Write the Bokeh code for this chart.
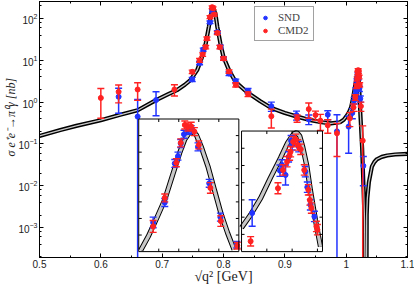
import numpy as np
from bokeh.plotting import figure
from bokeh.models import (Range1d, LogScale, LogAxis, LinearAxis, Label, Legend, LegendItem,
                          SingleIntervalTicker, LogTicker, CustomJSTickFormatter, Grid)
from bokeh.embed import file_html
from bokeh.resources import INLINE

# ---------------- data ----------------
# main panel: SND
snd_x = [0.629, 0.660, 0.690, 0.749, 0.761, 0.767, 0.778, 0.782, 0.790, 0.795,
         0.800, 0.809, 0.820, 0.840, 0.878, 0.919, 0.939, 0.970, 0.985, 1.004,
         1.010, 1.013, 1.016, 1.0175, 1.019, 1.020, 1.0215, 1.023, 1.028]
snd_y = [1.34, 0.45, 1.12, 3.5, 8.6, 18, 81, 150, 47, 21,
         11, 4.8, 3.2, 1.86, 0.8, 0.49, 0.39, 0.5, 0.2, 0.26,
         0.55, 1.1, 1.9, 3.2, 4.5, 3.8, 2.1, 1.2, 0.03]
snd_e = [0.8, 0.7, 0.65, 0.4, 0.8, 1.5, 6, 12, 4, 2,
         1, 0.5, 0.35, 0.25, 0.2, 0.12, 0.1, 0.12, 0.3, 0.2,
         0.15, 0.2, 0.3, 0.4, 0.5, 0.4, 0.3, 0.2, 0.02]
# main panel: CMD2
cmd_x = [0.600, 0.629, 0.660, 0.720, 0.749, 0.761, 0.766, 0.771, 0.773, 0.778,
         0.7815, 0.783, 0.785, 0.790, 0.794, 0.800, 0.809, 0.820, 0.840, 0.878,
         0.920, 0.939, 0.950, 0.958, 0.970, 0.985, 1.006, 1.012, 1.015, 1.017,
         1.018, 1.019, 1.0195, 1.020, 1.021, 1.022, 1.024, 1.027]
cmd_y = [1.26, 1.76, 2.0, 2.0, 5.3, 10, 13.7, 20.7, 33, 108,
         186, 175, 124, 45, 20.7, 11, 5.4, 2.6, 1.55, 0.46,
         0.41, 0.68, 0.49, 0.36, 0.28, 0.18, 0.41, 0.75, 1.3, 2.4,
         3.6, 5.0, 5.8, 5.3, 4.0, 2.6, 0.8, 0.12]
cmd_e = [0.85, 0.8, 0.9, 0.6, 0.5, 1.0, 1.3, 2, 3, 9,
         14, 14, 10, 4, 2, 1, 0.5, 0.3, 0.2, 0.22,
         0.08, 0.27, 0.12, 0.15, 0.1, 0.13, 0.15, 0.15, 0.2, 0.3,
         0.4, 0.5, 0.5, 0.5, 0.4, 0.3, 0.2, 0.15]
# main panel: theory curve
th_x = [0.50, 0.534, 0.56, 0.60, 0.63, 0.66, 0.69, 0.71, 0.724, 0.737,
        0.746, 0.757, 0.765, 0.771, 0.776, 0.780, 0.782, 0.784, 0.787, 0.790,
        0.795, 0.800, 0.809, 0.820, 0.839, 0.860, 0.878, 0.900, 0.920, 0.942,
        0.960, 0.975, 0.990, 0.996, 1.000, 1.004, 1.008, 1.0115, 1.0153, 1.018,
        1.0195, 1.0205, 1.0215, 1.0225, 1.024, 1.026, 1.028, 1.030, 1.0325, 1.0335,
        1.0345, 1.037, 1.042, 1.046, 1.050, 1.058, 1.067, 1.080, 1.100]
th_y = [0.155, 0.215, 0.27, 0.37, 0.49, 0.64, 1.12, 1.55, 1.93, 2.6,
        3.34, 5.8, 12, 25, 62, 130, 190, 170, 125, 62,
        25, 12, 5.8, 3.0, 1.7, 1.05, 0.72, 0.55, 0.45, 0.37,
        0.33, 0.31, 0.33, 0.38, 0.45, 0.55, 0.75, 1.3, 2.8, 4.8,
        6.4, 4.0, 1.8, 0.8, 0.3, 0.08, 0.012, 0.0015, 1e-7, 0.002,
        0.005, 0.012, 0.029, 0.037, 0.043, 0.049, 0.053, 0.056, 0.058]

# inset 1 (omega region, linear scales)
in1_th_x = [0.7705, 0.7724, 0.7745, 0.7765, 0.7786, 0.7802, 0.7815, 0.7827, 0.7833, 0.7844,
            0.7856, 0.7873, 0.7889, 0.7905, 0.7922, 0.7938]
in1_th_y = [2, 23, 50.7, 78.2, 118.3, 148.4, 169.5, 180, 181, 176,
            158.3, 128.3, 93.2, 58.2, 28.1, 3]
in1_snd_x = [0.7736, 0.7765, 0.7790, 0.7798, 0.7805, 0.7813, 0.7823, 0.7831, 0.7848, 0.7876, 0.7904, 0.7945]
in1_snd_y = [44, 74, 133, 144, 163, 177, 183, 184, 158, 103, 52, 10.5]
in1_snd_e = [8, 6, 6, 6, 6, 6, 6, 6, 6, 6, 6, 5]
in1_cmd_x = [0.7736, 0.7765, 0.7794, 0.7805, 0.7815, 0.7823, 0.7831, 0.7839, 0.7850, 0.7879, 0.7905, 0.7946]
in1_cmd_y = [38, 81, 134, 164, 191, 188, 189, 181, 161, 96, 46, 9]
in1_cmd_e = [9, 6, 6, 6, 6, 6, 6, 6, 6, 8, 8, 5]

# inset 2 (phi region, linear scales)
in2_th_x = [1.0100, 1.0118, 1.0138, 1.0157, 1.0177, 1.0191, 1.0203, 1.0209, 1.0215, 1.0221,
            1.0229, 1.0236, 1.0246, 1.0256]
in2_th_y = [1.39, 2.14, 3.12, 4.28, 5.44, 6.31, 6.83, 6.91, 6.71, 6.07,
            4.98, 3.59, 1.85, 0.29]
in2_snd_x = [1.0121, 1.0176, 1.0180, 1.0187, 1.0193, 1.0200, 1.0198, 1.0213, 1.0226, 1.0230, 1.0236, 1.0244]
in2_snd_y = [2.24, 4.7, 5.03, 4.45, 5.5, 6.2, 6.44, 6.09, 4.64, 3.74, 2.72, 2.04]
in2_snd_e = [0.77, 0.33, 0.3, 0.58, 0.3, 0.3, 0.3, 0.3, 0.3, 0.3, 0.3, 0.3]
in2_cmd_x = [1.0118, 1.0172, 1.0182, 1.0190, 1.0195, 1.0197, 1.0202, 1.0207, 1.0211, 1.0217,
             1.0224, 1.0232, 1.0235, 1.0238, 1.0248, 1.0250]
in2_cmd_y = [0.6, 3.68, 4.74, 5.22, 5.6, 5.8, 6.38, 6.52, 6.19, 5.94,
             4.74, 3.59, 3.0, 2.53, 1.46, 1.27]
in2_cmd_e = [0.27, 0.32, 0.3, 0.3, 0.3, 0.3, 0.3, 0.3, 0.3, 0.3,
             0.3, 0.3, 0.3, 0.3, 0.3, 0.3]

x_label = "√q² [GeV]"
y_label = "σ e⁺e⁻→π⁰γ [nb]"
legend_labels = ["SND", "CMD2"]

# ---------------- styling ----------------
BLUE = "#2233ff"
RED = "#ff2222"
BAND = "#c8c8c8"
FLOOR = 1e-7

p = figure(width=414, height=286, output_backend="svg", toolbar_location=None,
           x_range=Range1d(0.5, 1.1), y_range=Range1d(0, 1),
           x_axis_location=None, y_axis_location=None,
           min_border_left=39, min_border_right=7, min_border_top=1, min_border_bottom=28)
p.extra_y_ranges = {"log": Range1d(1.93e-4, 254)}
p.extra_y_scales = {"log": LogScale()}
for r in list(p.center):
    if isinstance(r, Grid):
        r.visible = False
p.outline_line_color = "black"
p.outline_line_width = 1
p.background_fill_color = "white"
p.border_fill_color = "white"

empty_fmt = CustomJSTickFormatter(code="return ''")


def style_axis(ax, labels=True):
    ax.axis_line_color = "black"
    ax.axis_line_width = 1
    ax.major_tick_in = 4
    ax.major_tick_out = 0
    ax.minor_tick_in = 2
    ax.minor_tick_out = 0
    ax.major_tick_line_color = "black"
    ax.minor_tick_line_color = "black"
    ax.major_label_text_font = "Liberation Sans"
    ax.major_label_text_color = "#222222"
    if labels:
        ax.major_label_text_font_size = "10px"
        ax.major_label_standoff = 2
    else:
        ax.formatter = empty_fmt
        ax.major_label_text_font_size = "0px"
        ax.major_label_standoff = 0


xb = LinearAxis(ticker=SingleIntervalTicker(interval=0.1, num_minor_ticks=2))
style_axis(xb)
xb.axis_label = x_label
xb.axis_label_text_font = "Liberation Serif"
xb.axis_label_text_font_style = "normal"
xb.axis_label_text_font_size = "14px"
xb.axis_label_text_color = "#222222"
xb.axis_label_standoff = -2
p.add_layout(xb, "below")
xa = LinearAxis(ticker=SingleIntervalTicker(interval=0.1, num_minor_ticks=2))
style_axis(xa, labels=False)
p.add_layout(xa, "above")
yl = LogAxis(y_range_name="log", ticker=LogTicker(desired_num_ticks=8))
style_axis(yl)
p.add_layout(yl, "left")
yr = LogAxis(y_range_name="log", ticker=LogTicker(desired_num_ticks=8))
style_axis(yr, labels=False)
p.add_layout(yr, "right")


def draw_points(api, x, y, e, color, floor, **kw):
    x = np.asarray(x, float)
    y = np.asarray(y, float)
    e = np.asarray(e, float)
    lo = np.maximum(y - e, floor)
    hi = y + e
    api.segment(x0=x, y0=lo, x1=x, y1=hi, line_color=color, line_width=1.5, **kw)
    api.scatter(x, hi, marker="dash", size=7, line_color=color, line_width=1.4, **kw)
    api.scatter(x, lo, marker="dash", size=7, line_color=color, line_width=1.4, **kw)
    return api.scatter(x, y, marker="circle", size=5, fill_color=color, line_color=color, **kw)


# main curve (band look: thick black line with grey core)
p.line(th_x, th_y, y_range_name="log", line_color="black", line_width=4.2)
p.line(th_x, th_y, y_range_name="log", line_color=BAND, line_width=1.3)

r_snd = draw_points(p, snd_x, snd_y, snd_e, BLUE, FLOOR, y_range_name="log")
r_cmd = draw_points(p, cmd_x, cmd_y, cmd_e, RED, FLOOR, y_range_name="log")


def inset(xs, ys, xt, yt, thx, thy, sets, yticks, xticks):
    ins = p.subplot(x_source=xs, y_source=ys, x_target=xt, y_target=yt)
    box = dict(left=[xs.start], right=[xs.end], bottom=[ys.start], top=[ys.end])
    ins.quad(**box, fill_color="white", line_color=None)
    ins.line(thx, thy, line_color="black", line_width=5.2)
    ins.line(thx, thy, line_color=BAND, line_width=3.2)
    for (sx, sy, se, col) in sets:
        draw_points(ins, sx, sy, se, col, ys.start)
    ins.quad(**box, fill_color=None, line_color="black", line_width=1)
    n = len(yticks)
    ins.ray(x=[xs.start] * n, y=yticks, length=3, angle=0, length_units="screen", line_color="black")
    ins.ray(x=[xs.end] * n, y=yticks, length=3, angle=np.pi, length_units="screen", line_color="black")
    m = len(xticks)
    ins.ray(x=xticks, y=[ys.start] * m, length=3, angle=np.pi / 2, length_units="screen", line_color="black")
    ins.ray(x=xticks, y=[ys.end] * m, length=3, angle=-np.pi / 2, length_units="screen", line_color="black")


inset(Range1d(0.770, 0.795), Range1d(0, 200), Range1d(0.6618, 0.825), Range1d(0.023, 0.541),
      in1_th_x, in1_th_y,
      [(in1_snd_x, in1_snd_y, in1_snd_e, BLUE), (in1_cmd_x, in1_cmd_y, in1_cmd_e, RED)],
      [25, 50, 75, 100, 125, 150, 175], [0.775, 0.780, 0.785, 0.790])
inset(Range1d(1.010, 1.026), Range1d(0, 7), Range1d(0.8294, 0.9614), Range1d(0.023, 0.494),
      in2_th_x, in2_th_y,
      [(in2_snd_x, in2_snd_y, in2_snd_e, BLUE), (in2_cmd_x, in2_cmd_y, in2_cmd_e, RED)],
      [1, 2, 3, 4, 5, 6], [1.015, 1.020, 1.025])

# legend
leg = Legend(items=[LegendItem(label=legend_labels[0], renderers=[r_snd]),
                    LegendItem(label=legend_labels[1], renderers=[r_cmd])],
             location=(215, 216))
leg.label_text_font = "Liberation Serif"
leg.label_text_font_size = "11px"
leg.label_height = 9
leg.glyph_height = 9
leg.glyph_width = 12
leg.label_standoff = 7
leg.spacing = 1
leg.padding = 4
leg.margin = 0
leg.border_line_color = "#444444"
leg.border_line_width = 1
leg.background_fill_color = "white"
p.add_layout(leg)

# y axis label: one text in the left side panel, at canvas pixel position
p.add_layout(Label(x=10, y=156, x_units="canvas", y_units="canvas", text=y_label,
                   angle=np.pi / 2, text_font="Liberation Serif", text_font_style="italic",
                   text_font_size="12px", text_align="left", text_baseline="middle",
                   text_color="#222222"), "left")

open("out.html", "w").write(file_html(p, INLINE))
